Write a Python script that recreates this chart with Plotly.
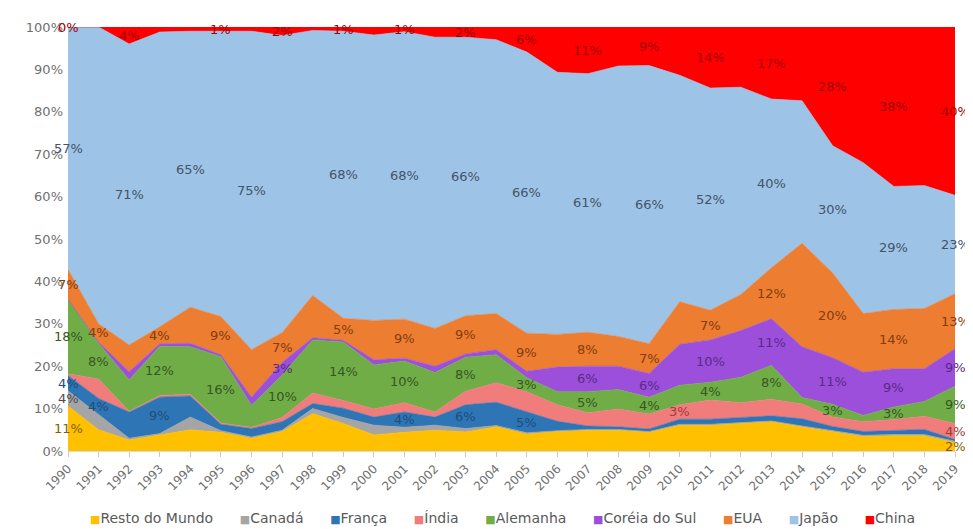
import plotly.graph_objects as go

years = list(range(1990, 2020))

resto_do_mundo = [10.6, 5.0, 2.6, 3.8, 5.0, 4.4, 3.0, 4.6, 8.8, 6.5, 3.8, 4.4, 4.9, 4.5, 5.7,
                  4.0, 4.6, 4.9, 4.9, 4.4, 6.1, 6.1, 6.5, 6.9, 5.7, 4.5, 3.4, 3.6, 3.6, 2.0]
canada = [3.6, 3.5, 0.4, 0.3, 3.0, 0.4, 0.3, 0.3, 1.2, 1.4, 2.3, 1.2, 1.2, 0.8, 0.3,
          0.3, 0.2, 0.2, 0.2, 0.2, 0.2, 0.2, 0.2, 0.2, 0.2, 0.3, 0.3, 0.3, 0.3, 0.3]
franca = [3.6, 3.9, 6.2, 8.6, 5.0, 1.5, 2.0, 2.0, 1.2, 2.2, 1.9, 3.6, 1.9, 5.6, 5.5,
          5.0, 2.2, 0.8, 0.6, 0.6, 1.2, 1.2, 1.2, 1.2, 1.7, 1.0, 0.9, 1.0, 1.2, 0.4]
india = [0.4, 4.6, 0.2, 0.4, 0.4, 0.3, 0.3, 1.0, 2.5, 1.8, 1.9, 2.2, 1.2, 3.2, 4.6,
         4.7, 3.9, 3.1, 4.2, 3.5, 3.4, 4.5, 3.5, 3.9, 3.5, 2.2, 2.3, 2.5, 3.1, 3.8]
alemanha = [17.6, 8.4, 7.4, 11.6, 11.2, 15.6, 5.2, 10.0, 12.5, 13.8, 10.4, 9.8, 9.3, 8.0, 6.6,
            3.3, 3.1, 5.0, 4.6, 4.0, 4.6, 4.2, 6.0, 8.0, 1.5, 3.0, 1.5, 3.0, 3.5, 8.8]
coreia_do_sul = [0.0, 0.3, 1.9, 0.6, 0.8, 0.5, 1.9, 3.0, 0.5, 0.4, 1.2, 0.7, 1.5, 0.8, 1.2,
                 1.5, 5.8, 6.0, 5.5, 5.6, 9.7, 10.0, 11.0, 11.0, 12.0, 11.0, 10.2, 9.0, 7.7, 8.8]
eua = [7.0, 4.3, 6.3, 4.0, 8.5, 9.0, 11.2, 7.0, 10.0, 5.2, 9.3, 9.2, 8.9, 9.0, 8.5,
       9.0, 7.7, 8.0, 7.0, 7.0, 10.0, 7.0, 8.5, 12.0, 24.4, 20.0, 13.8, 14.0, 14.2, 13.0]
japao = [57.2, 70.0, 71.0, 69.5, 65.1, 67.3, 75.1, 70.1, 62.5, 67.7, 67.3, 67.8, 68.7, 65.7, 64.6,
         66.3, 61.8, 61.0, 63.8, 65.6, 53.4, 52.4, 48.9, 39.8, 33.6, 30.0, 35.6, 29.0, 29.0, 23.2]
china = [0.0, 0.0, 4.0, 1.2, 1.0, 1.0, 1.0, 2.0, 0.8, 1.0, 1.9, 1.1, 2.4, 2.4, 3.0,
         5.9, 10.7, 11.0, 9.2, 9.1, 11.4, 14.4, 14.2, 17.0, 17.4, 28.0, 32.0, 37.6, 37.4, 39.7]

series_names = ["Resto do Mundo", "Canadá", "França", "Índia", "Alemanha",
                "Coréia do Sul", "EUA", "Japão", "China"]
series_values = [resto_do_mundo, canada, franca, india, alemanha, coreia_do_sul, eua, japao, china]
series_colors = ["#FFC000", "#A5A5A5", "#2E75B6", "#F07C7C", "#70AD47",
                 "#9B4FDB", "#ED7D31", "#9DC3E6", "#FF0000"]
label_colors = ["#7F6000", "#4D4D4D", "#1F4E79", "#9E3B3B", "#375623",
                "#5B2A86", "#843C0C", "#44546A", "#A00000"]

labelled_years = {
    "Resto do Mundo": [1990, 2019],
    "Canadá": [1990],
    "França": [1990, 1991, 1993, 2001, 2003, 2005],
    "Índia": [2010, 2019],
    "Alemanha": [1990, 1991, 1993, 1995, 1997, 1999, 2001, 2003, 2005, 2007, 2009, 2011, 2013, 2015, 2017, 2019],
    "Coréia do Sul": [1997, 2007, 2009, 2011, 2013, 2015, 2017, 2019],
    "EUA": [1990, 1991, 1993, 1995, 1997, 1999, 2001, 2003, 2005, 2007, 2009, 2011, 2013, 2015, 2017, 2019],
    "Japão": [1990, 1992, 1994, 1996, 1999, 2001, 2003, 2005, 2007, 2009, 2011, 2013, 2015, 2017, 2019],
    "China": [1990, 1992, 1995, 1997, 1999, 2001, 2003, 2005, 2007, 2009, 2011, 2013, 2015, 2017, 2019],
}

y_ticks = list(range(0, 101, 10))

FONT = "DejaVu Sans"

fig = go.Figure()
annotations = []
cum = [0.0] * len(years)
for name, vals, col, lcol in zip(series_names, series_values, series_colors, label_colors):
    fig.add_trace(go.Scatter(
        x=years, y=vals, name=name, mode="lines", stackgroup="one",
        line=dict(width=0.6, color=col), fillcolor=col, hoverinfo="skip",
        showlegend=False,
    ))
    for i, yr in enumerate(years):
        if yr in labelled_years[name]:
            annotations.append(dict(
                x=yr, y=cum[i] + vals[i] / 2, xref="x", yref="y",
                text=f"{vals[i]:.0f}%", showarrow=False,
                font=dict(family=FONT, size=13, color=lcol),
                xanchor="center", yanchor="middle",
            ))
    cum = [c + v for c, v in zip(cum, vals)]

gap = "&nbsp;" * 6
legend_text = gap.join(
    f'<span style="color:{c};font-size:11px">■</span>{n}'
    for n, c in zip(series_names, series_colors)
)
annotations.append(dict(
    x=0.49, y=-0.158, xref="paper", yref="paper", text=legend_text,
    showarrow=False, xanchor="center", yanchor="middle",
    font=dict(family=FONT, size=14, color="#595959"),
))

# page body has an 8px default margin: size the figure so the plot lands where the reference has it
fig.update_layout(
    width=965, height=521,
    margin=dict(l=60, r=17, t=13, b=78),
    paper_bgcolor="white", plot_bgcolor="white",
    showlegend=False,
    annotations=annotations,
    font=dict(family=FONT, color="#666666"),
)
fig.update_xaxes(
    range=[1990, 2019], tickvals=years, ticktext=[str(y) for y in years],
    tickangle=-45, tickfont=dict(family=FONT, size=12, color="#707070"),
    ticks="outside", ticklen=5, tickcolor="#C8C8C8",
    showline=True, linecolor="#D9D9D9", showgrid=False, zeroline=False,
)
fig.update_yaxes(
    range=[0, 100], tickvals=y_ticks, ticktext=[f"{t}%" for t in y_ticks],
    tickfont=dict(family=FONT, size=13, color="#707070"),
    showgrid=False, zeroline=False, showline=False, ticklabelstandoff=4,
)

fig.write_html("out.html")
